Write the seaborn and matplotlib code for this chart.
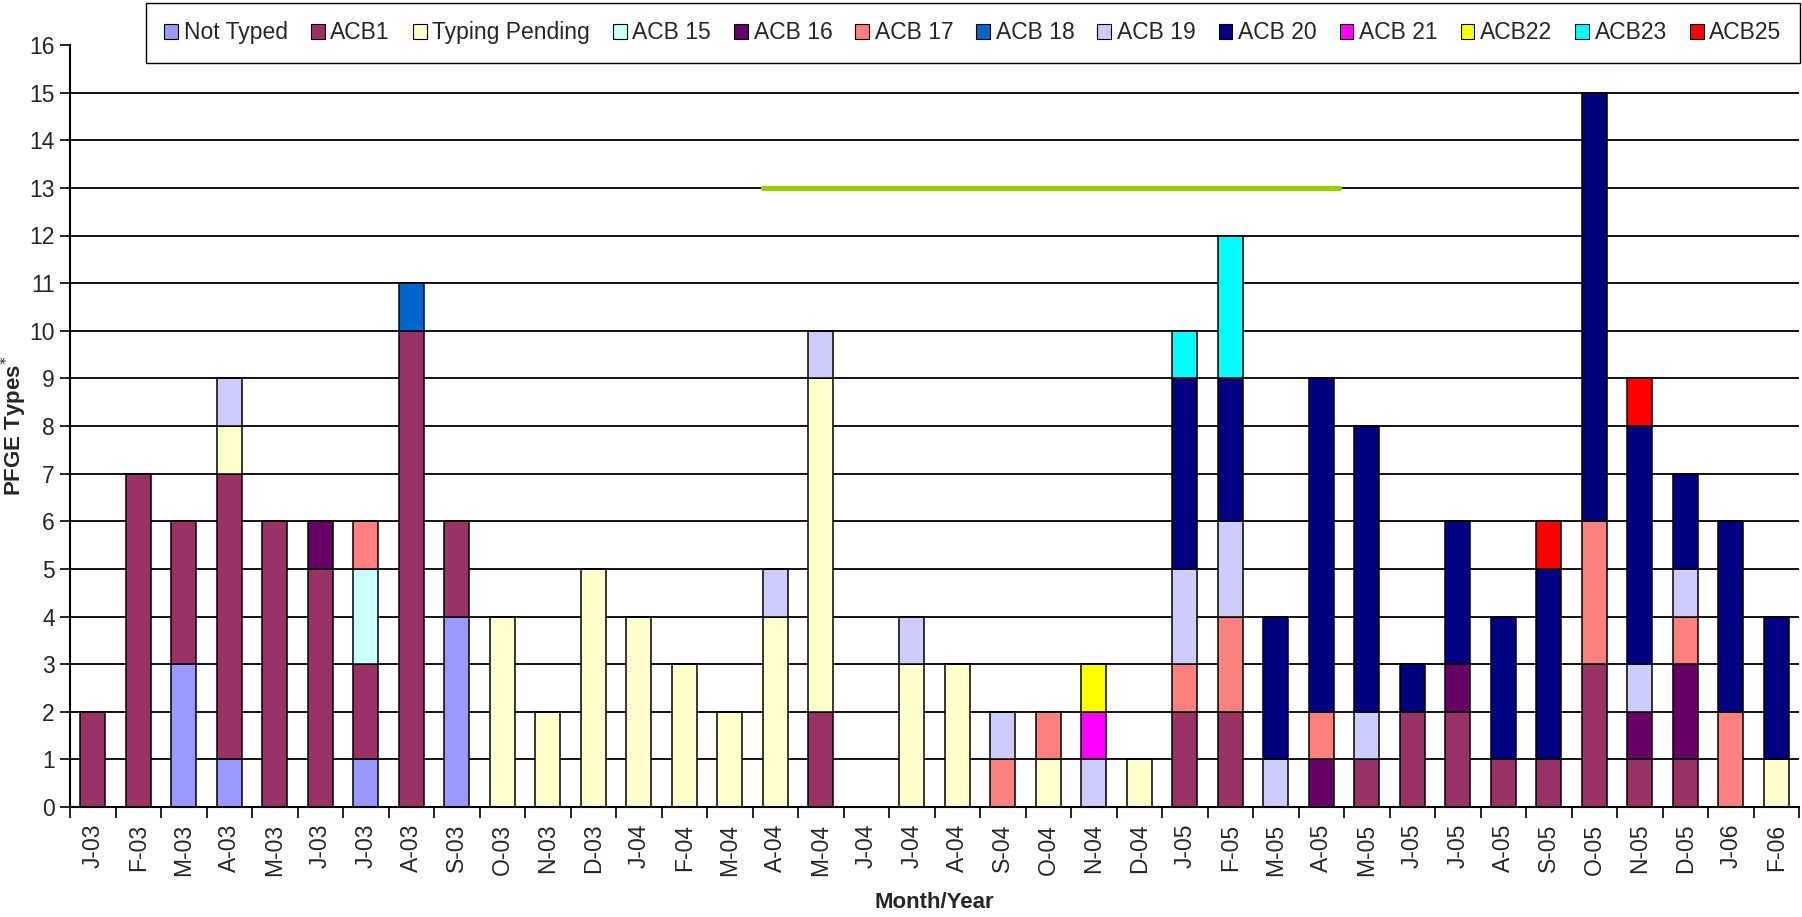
import numpy as np
import pandas as pd
import matplotlib
matplotlib.use("Agg")
import matplotlib.pyplot as plt
from matplotlib.patches import Patch
import seaborn as sns

sns.set_theme(style="white")
plt.rcParams['font.family'] = ['Liberation Sans', 'DejaVu Sans']

# Month labels (38 months, Jan 2003 - Feb 2006)
months = ["J-03", "F-03", "M-03", "A-03", "M-03", "J-03", "J-03", "A-03", "S-03", "O-03",
          "N-03", "D-03", "J-04", "F-04", "M-04", "A-04", "M-04", "J-04", "J-04", "A-04",
          "S-04", "O-04", "N-04", "D-04", "J-05", "F-05", "M-05", "A-05", "M-05", "J-05",
          "J-05", "A-05", "S-05", "O-05", "N-05", "D-05", "J-06", "F-06"]

# counts per PFGE type, one value per month (bottom of stack first)
not_typed      = [0, 0, 3, 1, 0, 0, 1, 0, 4, 0, 0, 0, 0, 0, 0, 0, 0, 0, 0, 0, 0, 0, 0, 0, 0, 0, 0, 0, 0, 0, 0, 0, 0, 0, 0, 0, 0, 0]
acb1           = [2, 7, 3, 6, 6, 5, 2, 10, 2, 0, 0, 0, 0, 0, 0, 0, 2, 0, 0, 0, 0, 0, 0, 0, 2, 2, 0, 0, 1, 2, 2, 1, 1, 3, 1, 1, 0, 0]
typing_pending = [0, 0, 0, 1, 0, 0, 0, 0, 0, 4, 2, 5, 4, 3, 2, 4, 7, 0, 3, 3, 0, 1, 0, 1, 0, 0, 0, 0, 0, 0, 0, 0, 0, 0, 0, 0, 0, 1]
acb15          = [0, 0, 0, 0, 0, 0, 2, 0, 0, 0, 0, 0, 0, 0, 0, 0, 0, 0, 0, 0, 0, 0, 0, 0, 0, 0, 0, 0, 0, 0, 0, 0, 0, 0, 0, 0, 0, 0]
acb16          = [0, 0, 0, 0, 0, 1, 0, 0, 0, 0, 0, 0, 0, 0, 0, 0, 0, 0, 0, 0, 0, 0, 0, 0, 0, 0, 0, 1, 0, 0, 1, 0, 0, 0, 1, 2, 0, 0]
acb17          = [0, 0, 0, 0, 0, 0, 1, 0, 0, 0, 0, 0, 0, 0, 0, 0, 0, 0, 0, 0, 1, 1, 0, 0, 1, 2, 0, 1, 0, 0, 0, 0, 0, 3, 0, 1, 2, 0]
acb18          = [0, 0, 0, 0, 0, 0, 0, 1, 0, 0, 0, 0, 0, 0, 0, 0, 0, 0, 0, 0, 0, 0, 0, 0, 0, 0, 0, 0, 0, 0, 0, 0, 0, 0, 0, 0, 0, 0]
acb19          = [0, 0, 0, 1, 0, 0, 0, 0, 0, 0, 0, 0, 0, 0, 0, 1, 1, 0, 1, 0, 1, 0, 1, 0, 2, 2, 1, 0, 1, 0, 0, 0, 0, 0, 1, 1, 0, 0]
acb20          = [0, 0, 0, 0, 0, 0, 0, 0, 0, 0, 0, 0, 0, 0, 0, 0, 0, 0, 0, 0, 0, 0, 0, 0, 4, 3, 3, 7, 6, 1, 3, 3, 4, 9, 5, 2, 4, 3]
acb21          = [0, 0, 0, 0, 0, 0, 0, 0, 0, 0, 0, 0, 0, 0, 0, 0, 0, 0, 0, 0, 0, 0, 1, 0, 0, 0, 0, 0, 0, 0, 0, 0, 0, 0, 0, 0, 0, 0]
acb22          = [0, 0, 0, 0, 0, 0, 0, 0, 0, 0, 0, 0, 0, 0, 0, 0, 0, 0, 0, 0, 0, 0, 1, 0, 0, 0, 0, 0, 0, 0, 0, 0, 0, 0, 0, 0, 0, 0]
acb23          = [0, 0, 0, 0, 0, 0, 0, 0, 0, 0, 0, 0, 0, 0, 0, 0, 0, 0, 0, 0, 0, 0, 0, 0, 1, 3, 0, 0, 0, 0, 0, 0, 0, 0, 0, 0, 0, 0]
acb25          = [0, 0, 0, 0, 0, 0, 0, 0, 0, 0, 0, 0, 0, 0, 0, 0, 0, 0, 0, 0, 0, 0, 0, 0, 0, 0, 0, 0, 0, 0, 0, 0, 1, 0, 1, 0, 0, 0]

type_names = ["Not Typed", "ACB1", "Typing Pending", "ACB 15", "ACB 16", "ACB 17", "ACB 18",
              "ACB 19", "ACB 20", "ACB 21", "ACB22", "ACB23", "ACB25"]
type_colors = ["#9999FF", "#993366", "#FFFFCC", "#CCFFFF", "#660066", "#FF8080", "#0066CC",
               "#CCCCFF", "#000080", "#FF00FF", "#FFFF00", "#00FFFF", "#FF0000"]
series = [not_typed, acb1, typing_pending, acb15, acb16, acb17, acb18,
          acb19, acb20, acb21, acb22, acb23, acb25]

# green reference line (level 13, spanning roughly A-04 .. A-05)
ref_level = 13
ref_x = [14.73, 27.39]

# long table for seaborn
rows = []
for name, vals in zip(type_names, series):
    for i, v in enumerate(vals):
        rows.append({"month": i, "type": name, "count": v})
df = pd.DataFrame(rows)

fig = plt.figure(figsize=(18.02, 9.17), dpi=100)
ax = fig.add_axes([70 / 1802, 1 - 807 / 917, (1799 - 70) / 1802, (807 - 45) / 917])

# seaborn stacks the last hue level at the bottom, so reverse the order
sns.histplot(data=df, x="month", weights="count", hue="type",
             hue_order=type_names[::-1], palette=dict(zip(type_names, type_colors)),
             multiple="stack", discrete=True, shrink=0.56, alpha=1,
             edgecolor="black", linewidth=1.1, legend=False, ax=ax)

ax.hlines(range(1, 16), -0.5, len(months) - 0.5, colors="black", linewidth=1.3, zorder=0)
ax.plot(ref_x, [ref_level, ref_level], color="#99CC00", linewidth=3.8, zorder=3)

ax.set_xlim(-0.5, len(months) - 0.5)
ax.set_ylim(0, 16)
ax.set_yticks(range(0, 17))
ax.set_xticks(range(len(months)))
ax.set_xticklabels(months, rotation=90)
ax.set_xticks(np.arange(-0.5, len(months)), minor=True)
ax.tick_params(axis="x", which="major", length=0, pad=12, labelsize=16.5)
ax.tick_params(axis="x", which="minor", length=8, width=1.2, direction="out", color="black")
ax.tick_params(axis="y", length=7, width=1.2, direction="out", color="black", labelsize=16.5, pad=4)
ax.tick_params(bottom=True, left=True, which="both")

for s in ["top", "right"]:
    ax.spines[s].set_visible(False)
for s in ["left", "bottom"]:
    ax.spines[s].set_color("black")
    ax.spines[s].set_linewidth(1.5)

ax.set_ylabel("PFGE Types$^{*}$", fontsize=16, fontweight="bold")
ax.yaxis.set_label_coords(-0.024, 0.5)
ax.set_xlabel("Month/Year", fontsize=16, fontweight="bold", labelpad=12)

handles = [Patch(facecolor=c, edgecolor="black", linewidth=0.8) for c in type_colors]
fig.legend(handles, type_names, loc="upper center", bbox_to_anchor=(973 / 1802, 1 - 3 / 917),
           ncol=len(type_names), frameon=True, fancybox=False, edgecolor="black",
           fontsize=16.5, handlelength=0.6, handleheight=0.6, handletextpad=0.25,
           columnspacing=1.0, borderpad=0.8, borderaxespad=0, framealpha=1)

fig.savefig("out.png", dpi=100, facecolor="white")
